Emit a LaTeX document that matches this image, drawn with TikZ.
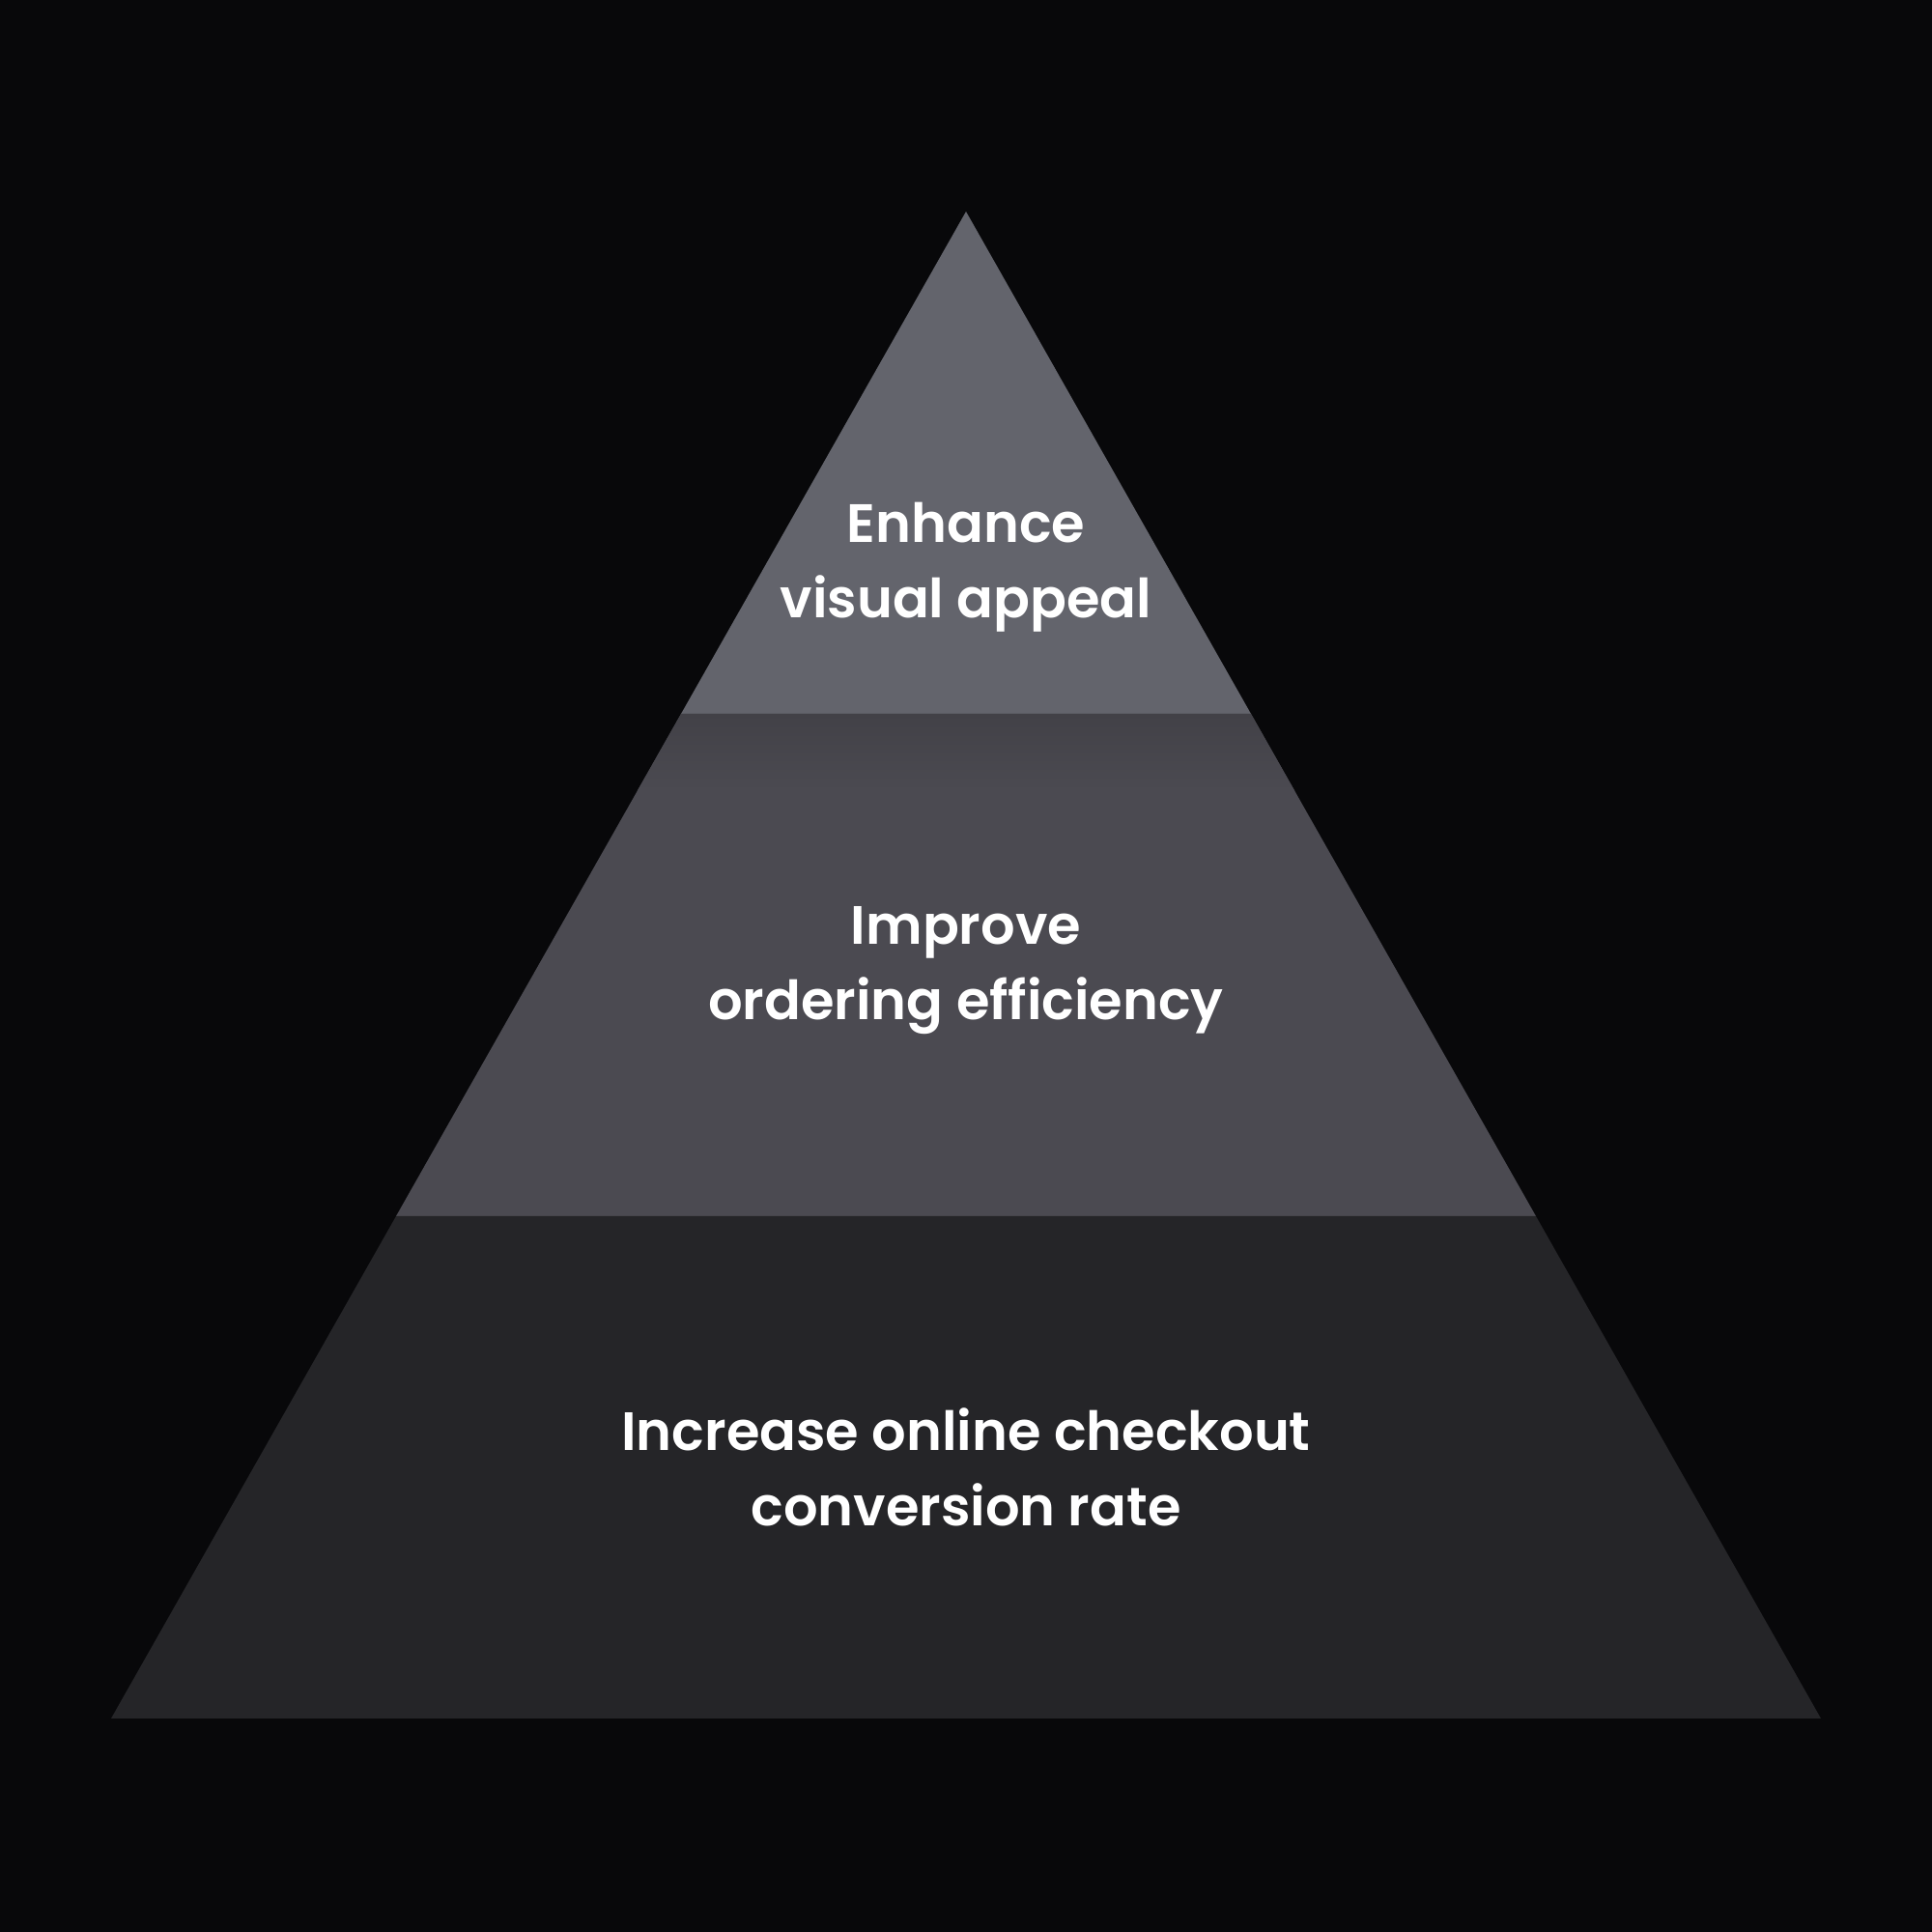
\documentclass[tikz,border=0pt]{standalone}
\usepackage{fontspec}
\setmainfont{Poppins}[UprightFont=* SemiBold]
\usepackage{tikz}
\usetikzlibrary{positioning, calc}
\definecolor{bgdark}{HTML}{08080A}
\definecolor{tiertop}{HTML}{63646C}
\definecolor{tiermid}{HTML}{4B4A51}
\definecolor{tiermidshade}{HTML}{424147}
\definecolor{tierbase}{HTML}{252528}

\begin{document}
\begin{tikzpicture}[
    tierlabel/.style={text=white, align=center, font=\fontsize{15.9}{22.2}\selectfont}
]

% Background
\fill[bgdark] (0,0) rectangle (20,20);
\useasboundingbox (0,0) rectangle (20,20);

% Pyramid corners
\coordinate (apex) at (10,17.81);
\coordinate (bl) at (1.15,2.21);
\coordinate (br) at (18.85,2.21);
\coordinate (tl) at ($(apex)!1/3!(bl)$);
\coordinate (tr) at ($(apex)!1/3!(br)$);
\coordinate (ml) at ($(apex)!2/3!(bl)$);
\coordinate (mr) at ($(apex)!2/3!(br)$);

% Tiers
\fill[tiertop] (apex) -- (tr) -- (tl) -- cycle;
\fill[tiermid] (tl) -- (tr) -- (mr) -- (ml) -- cycle;
\begin{scope}
    \clip (tl) -- (tr) -- (mr) -- (ml) -- cycle;
    \shade[top color=tiermidshade, bottom color=tiermid] ($(tl)+(-1,0)$) rectangle ($(tr)+(1,-0.8)$);
\end{scope}
\fill[tierbase] (ml) -- (mr) -- (br) -- (bl) -- cycle;

% Labels
\node[tierlabel] (enhance) at (10,14.13) {Enhance\\visual appeal};
\node[tierlabel] (improve) at (10,9.95) {Improve\\ordering efficiency};
\node[tierlabel] (increase) at (10,4.81) {Increase online checkout\\conversion rate};

\end{tikzpicture}
\end{document}
